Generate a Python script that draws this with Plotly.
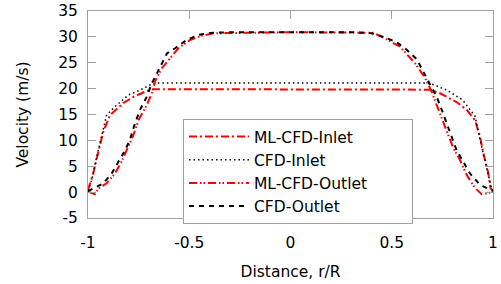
import plotly.graph_objects as go

# ---- data ----
ml_inlet_x = [-1, -0.974, -0.949, -0.924, -0.891, -0.826, -0.776, -0.719, -0.677, 0, 0.689, 0.738, 0.82, 0.87, 0.911, 0.936, 0.952, 0.977, 0.988, 1]
ml_inlet_y = [0.4, 3.6, 7.8, 11.7, 14.9, 17.2, 18.4, 19.4, 19.9, 19.9, 19.8, 19.1, 17.4, 15.9, 13.9, 10.7, 7.5, 3.6, 0.7, 0.3]

cfd_inlet_x = [-1, -0.982, -0.957, -0.933, -0.908, -0.867, -0.80, -0.76, -0.694, -0.66, 0, 0.65, 0.697, 0.773, 0.85, 0.87, 0.911, 0.936, 0.96, 0.993, 1]
cfd_inlet_y = [0.3, 2.3, 6.8, 10.7, 14.9, 16.5, 18.8, 19.4, 20.7, 21.1, 21.1, 21.1, 20.9, 19.7, 17.8, 16.8, 14.7, 10.1, 6.2, 0.7, 0.3]

ml_outlet_x = [-1, -0.965, -0.949, -0.908, -0.867, -0.834, -0.809, -0.776, -0.751, -0.71, -0.685, -0.669, -0.636, -0.595, -0.554, -0.496, -0.44, -0.38, 0, 0.41, 0.467, 0.54, 0.615, 0.664, 0.697, 0.722, 0.763, 0.804, 0.837, 0.87, 0.911, 0.944, 0.977, 1]
ml_outlet_y = [0.1, -0.4, 0.7, 1.7, 3.6, 5.9, 8.1, 11.0, 13.9, 16.8, 19.1, 21.4, 23.9, 25.9, 27.8, 29.4, 30.2, 30.7, 30.9, 30.8, 29.7, 28.1, 24.9, 22.1, 19.4, 16.8, 12.6, 8.5, 6.2, 3.3, 0.8, -0.4, -0.2, 0.3]

cfd_outlet_x = [-1, -0.924, -0.883, -0.85, -0.817, -0.793, -0.768, -0.743, -0.71, -0.685, -0.653, -0.61, -0.57, -0.513, -0.455, -0.38, -0.3, 0.3, 0.4, 0.467, 0.526, 0.574, 0.623, 0.656, 0.689, 0.722, 0.747, 0.771, 0.796, 0.82, 0.853, 0.886, 0.936, 0.993, 1]
cfd_outlet_y = [0.2, 1.7, 3.6, 5.9, 8.1, 10.1, 13.3, 15.9, 18.4, 21.0, 23.6, 26.8, 27.8, 29.4, 30.4, 30.8, 30.9, 30.9, 30.7, 29.9, 28.9, 27.5, 25.7, 23.3, 21.0, 18.4, 15.9, 13.3, 10.7, 8.1, 5.9, 3.6, 1.4, 0.4, 0.2]

series_names = ["ML-CFD-Inlet", "CFD-Inlet", "ML-CFD-Outlet", "CFD-Outlet"]

x_ticks = [-1, -0.5, 0, 0.5, 1]
x_tick_labels = ["-1", "-0.5", "0", "0.5", "1"]
y_ticks = [-5, 0, 5, 10, 15, 20, 25, 30, 35]
y_tick_labels = ["-5", "0", "5", "10", "15", "20", "25", "30", "35"]

FONT = "DejaVu Sans"
GRAY = "#a0a0a0"
PAD = "\u00a0" * 8  # widens the legend box like the reference

fig = go.Figure()
fig.add_trace(go.Scatter(x=ml_inlet_x, y=ml_inlet_y, mode="lines", name=series_names[0],
                         line=dict(color="#ff0000", width=2, dash="8px,3px,2px,3px")))
fig.add_trace(go.Scatter(x=cfd_inlet_x, y=cfd_inlet_y, mode="lines", name=series_names[1],
                         line=dict(color="#000000", width=1.5, dash="1.5px,3px")))
fig.add_trace(go.Scatter(x=ml_outlet_x, y=ml_outlet_y, mode="lines", name=series_names[2] + PAD,
                         line=dict(color="#ff0000", width=2, dash="8px,3px,1.5px,2px,1.5px,3px")))
fig.add_trace(go.Scatter(x=cfd_outlet_x, y=cfd_outlet_y, mode="lines", name=series_names[3],
                         line=dict(color="#000000", width=2, dash="5px,5px")))

fig.update_layout(
    width=501, height=284,
    margin=dict(l=88, r=8, t=11, b=66, autoexpand=False),
    paper_bgcolor="white", plot_bgcolor="white",
    font=dict(family=FONT, size=15.5, color="black"),
    showlegend=True,
    legend=dict(x=(183 - 88) / 405, y=(218 - 119) / 207, xanchor="left", yanchor="top",
                bgcolor="white", bordercolor=GRAY, borderwidth=1,
                font=dict(family=FONT, size=15.5), itemwidth=60,
                tracegroupgap=0),
)
fig.update_xaxes(range=[-1, 1], tickmode="array", tickvals=x_ticks, ticktext=x_tick_labels,
                 ticks="inside", ticklen=8, tickcolor=GRAY, showline=True, linecolor=GRAY,
                 linewidth=1, mirror="ticks", showgrid=False, zeroline=False,
                 ticklabelstandoff=10,
                 title=dict(text="Distance, r/R", font=dict(family=FONT, size=15.5), standoff=15))
fig.update_yaxes(range=[-5, 35], tickmode="array", tickvals=y_ticks, ticktext=y_tick_labels,
                 ticks="inside", ticklen=8, tickcolor=GRAY, showline=True, linecolor=GRAY,
                 linewidth=1, mirror="ticks", showgrid=False, zeroline=False,
                 ticklabelstandoff=6,
                 title=dict(text="Velocity (m/s)", font=dict(family=FONT, size=15.5), standoff=25))

fig.write_html("out.html", config={"displayModeBar": False},
               post_script="document.body.style.margin='0px';")
